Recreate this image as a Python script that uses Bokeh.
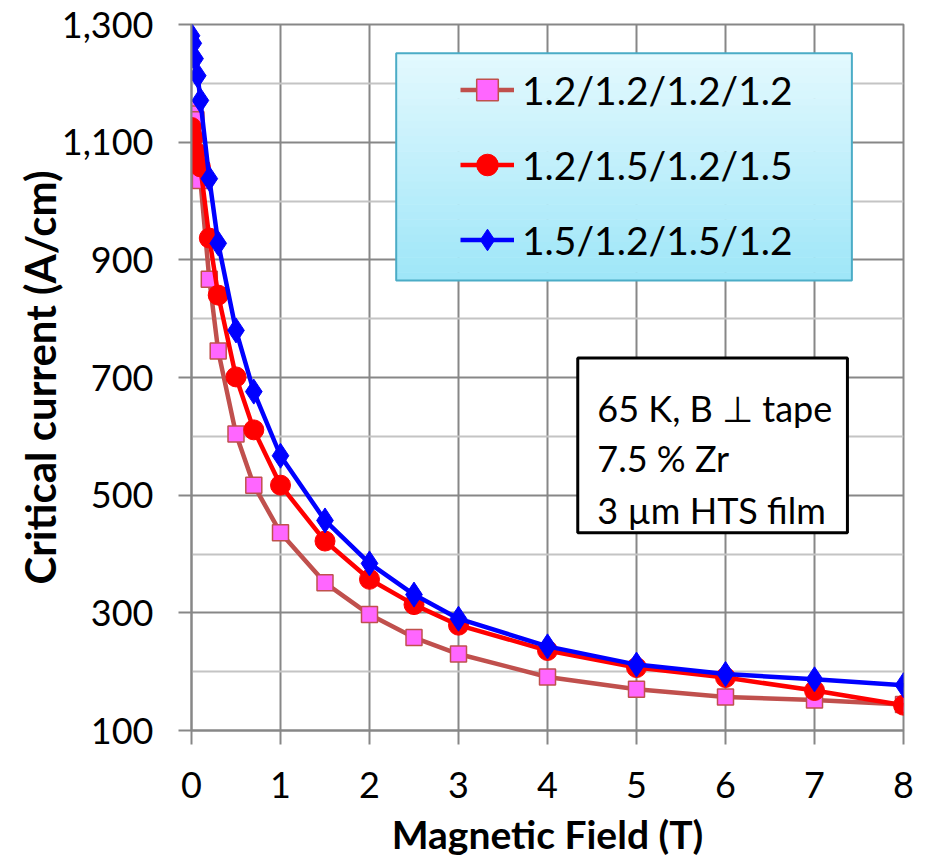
import numpy as np
from bokeh.plotting import figure
from bokeh.models import (Range1d, FixedTicker, NumeralTickFormatter, Legend, LegendItem,
                          BoxAnnotation, Label)
from bokeh.embed import file_html
from bokeh.resources import INLINE

# ---------------- data ----------------
x_ticks = [0, 1, 2, 3, 4, 5, 6, 7, 8]
y_ticks = [100, 300, 500, 700, 900, 1100, 1300]
y_minor = [200, 400, 600, 800, 1000, 1200]

series_names = ["1.2/1.2/1.2/1.2", "1.2/1.5/1.2/1.5", "1.5/1.2/1.5/1.2"]

field_a = [0, 0.02, 0.05, 0.1, 0.2, 0.3, 0.5, 0.7, 1, 1.5, 2, 2.5, 3, 4, 5, 6, 7, 8]
ic_a = [1157, 1148, 1138, 1035, 867, 745, 604, 517, 436, 351, 297, 258, 230, 191, 170, 157, 152, 144]

field_b = [0, 0.02, 0.05, 0.1, 0.2, 0.3, 0.5, 0.7, 1, 1.5, 2, 2.5, 3, 4, 5, 6, 7, 8]
ic_b = [1125, 1108, 1083, 1058, 937, 840, 701, 611, 517, 422, 357, 314, 279, 236, 207, 190, 168, 143]

field_c = [0, 0.02, 0.04, 0.07, 0.1, 0.2, 0.3, 0.5, 0.7, 1, 1.5, 2, 2.5, 3, 4, 5, 6, 7, 8]
ic_c = [1281, 1268, 1242, 1213, 1171, 1038, 928, 780, 676, 567, 457, 384, 331, 290, 243, 212, 196, 187, 177]

note_lines = ["65 K, B \u22a5 tape", "7.5 % Zr", "3 \u00b5m HTS film"]

# ---------------- figure ----------------
FONT = "Lato"
GRID = "#878787"

p = figure(width=918, height=859, output_backend="svg", toolbar_location=None,
           x_range=Range1d(0, 8), y_range=Range1d(100, 1300),
           min_border_left=191, min_border_right=15, min_border_top=24, min_border_bottom=128,
           background_fill_color="white", border_fill_color="white")
p.outline_line_color = GRID
p.outline_line_width = 2

p.xaxis.ticker = FixedTicker(ticks=x_ticks)
p.yaxis.ticker = FixedTicker(ticks=y_ticks, minor_ticks=y_minor)
p.xgrid.ticker = FixedTicker(ticks=x_ticks)
p.ygrid.ticker = FixedTicker(ticks=y_ticks, minor_ticks=y_minor)
p.yaxis.formatter = NumeralTickFormatter(format="0,0")

p.xgrid.grid_line_color = GRID
p.xgrid.grid_line_width = 2
p.ygrid.grid_line_color = GRID
p.ygrid.grid_line_width = 2
p.ygrid.minor_grid_line_color = "#c4c4c4"
p.ygrid.minor_grid_line_width = 2

for ax in (p.xaxis, p.yaxis):
    ax.axis_line_color = GRID
    ax.axis_line_width = 2
    ax.major_tick_line_color = GRID
    ax.major_tick_line_width = 2
    ax.major_tick_in = 0
    ax.minor_tick_line_color = None
    ax.major_label_text_font = FONT
    ax.major_label_text_font_size = "36px"
    ax.major_label_text_color = "black"
    ax.axis_label_text_font = FONT
    ax.axis_label_text_font_style = "bold"
    ax.axis_label_text_color = "black"

p.xaxis.axis_label_text_font_size = "39px"
p.yaxis.axis_label_text_font_size = "42px"
p.xaxis.major_tick_out = 14
p.yaxis.major_tick_out = 13
p.xaxis.major_label_standoff = 27
p.yaxis.major_label_standoff = 25
p.xaxis.axis_label = "Magnetic Field (T)"
p.yaxis.axis_label = "Critical current (A/cm)"
p.xaxis.axis_label_standoff = 10
p.yaxis.axis_label_standoff = -6

# ---------------- series ----------------
la = p.line(field_a, ic_a, line_color="#c0504d", line_width=4.5)
ma = p.scatter(field_a, ic_a, marker="square", size=16, fill_color="#ff66ff",
               line_color="#c0504d", line_width=1.5)
lb = p.line(field_b, ic_b, line_color="#ff0000", line_width=4.5)
mb = p.scatter(field_b, ic_b, marker="circle", size=20, fill_color="#ff0000",
               line_color="#ff0000")
lc = p.line(field_c, ic_c, line_color="#0000ff", line_width=4.5)
mc = p.scatter(field_c, ic_c, marker="diamond", size=25, fill_color="#0000ff",
               line_color="#0000ff")

# ---------------- legend box (gradient) ----------------
LG_L, LG_R, LG_B, LG_T = 2.30, 7.42, 865, 1251
top_rgb = np.array([0xe4, 0xf9, 0xfe])
bot_rgb = np.array([0x9e, 0xe6, 0xf8])
N = 30
for i in range(N):
    f = (i + 0.5) / N
    c = top_rgb * (1 - f) + bot_rgb * f
    col = "#%02x%02x%02x" % tuple(int(round(v)) for v in c)
    t = LG_T - (LG_T - LG_B) * i / N
    b = LG_T - (LG_T - LG_B) * (i + 1) / N
    p.add_layout(BoxAnnotation(left=LG_L, right=LG_R, top=min(t + 1, LG_T), bottom=b,
                               fill_color=col, fill_alpha=1, line_color=None))
p.add_layout(BoxAnnotation(left=LG_L, right=LG_R, top=LG_T, bottom=LG_B,
                           fill_alpha=0, line_color="#4bacc6", line_alpha=1, line_width=2))

legend = Legend(items=[LegendItem(label=series_names[0], renderers=[la, ma]),
                       LegendItem(label=series_names[1], renderers=[lb, mb]),
                       LegendItem(label=series_names[2], renderers=[lc, mc])],
                location=(269, 453), orientation="vertical",
                glyph_width=54, glyph_height=75, spacing=0, padding=0, margin=0,
                label_standoff=8, label_text_font=FONT, label_text_font_size="39px",
                label_text_color="black", label_text_baseline="middle",
                background_fill_alpha=0, border_line_color=None)
p.add_layout(legend, "center")

# ---------------- note box ----------------
p.add_layout(BoxAnnotation(left=4.34, right=7.37, top=733, bottom=436,
                           fill_color="white", fill_alpha=1,
                           line_color="black", line_alpha=1, line_width=3))
for txt, yb in zip(note_lines, [648, 563, 475]):
    p.add_layout(Label(x=4.56, y=yb, text=txt, text_font=FONT,
                       text_font_size="36px", text_color="black",
                       text_baseline="alphabetic", text_align="left"))

open("out.html", "w").write(file_html(p, INLINE))
